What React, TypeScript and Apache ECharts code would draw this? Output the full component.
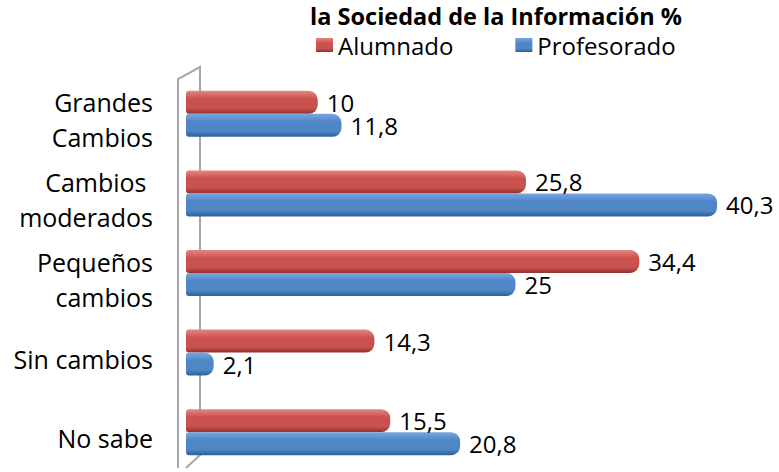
import React, { useEffect, useRef } from "react";
import * as echarts from "echarts";

const categories = ["Grandes\nCambios", "Cambios \nmoderados", "Pequeños\ncambios", "Sin cambios", "No sabe"];
const alumnado = [10, 25.8, 34.4, 14.3, 15.5];
const profesorado = [11.8, 40.3, 25, 2.1, 20.8];
const seriesNames = ["Alumnado", "Profesorado"];
const titleText = "la Sociedad de la Información %";

const FONT = "Open Sans";

function grad(top: string, mid: string, bot: string) {
  return new echarts.graphic.LinearGradient(0, 0, 0, 1, [
    { offset: 0, color: top },
    { offset: 0.35, color: mid },
    { offset: 0.75, color: mid },
    { offset: 1, color: bot },
  ]);
}

const fmt = (v: number) => String(v).replace(".", ",");

export default function App() {
  const ref = useRef<HTMLDivElement>(null);
  useEffect(() => {
    const chart = echarts.init(ref.current!, null, { renderer: "svg" });
    const labelStyle = {
      show: true,
      position: "right" as const,
      distance: 9,
      color: "#000",
      fontSize: 24,
      fontFamily: FONT,
      formatter: (p: any) => fmt(p.value),
    };
    chart.setOption({
      animation: false,
      backgroundColor: "#fff",
      title: {
        text: titleText,
        left: 491,
        textAlign: "center",
        top: 0,
        padding: [4, 5, 0, 5],
        textStyle: { fontSize: 23.5, fontWeight: "bold", fontFamily: FONT, color: "#000", lineHeight: 24 },
      },
      legend: {
        top: 33,
        left: 316,
        padding: 0,
        itemWidth: 17,
        itemHeight: 14,
        itemGap: 62,
        icon: "rect",
        textStyle: { fontSize: 24, fontFamily: FONT, color: "#000", lineHeight: 22 },
        data: seriesNames,
      },
      grid: { left: 186, right: 0, top: 74, height: 398, containLabel: false },
      xAxis: {
        type: "value",
        min: 0,
        max: 45,
        show: false,
      },
      yAxis: {
        type: "category",
        inverse: true,
        data: categories,
        axisLine: { show: false },
        axisTick: { show: false },
        splitLine: { show: false },
        axisLabel: {
          interval: 0,
          margin: 33,
          fontSize: 25,
          fontFamily: FONT,
          color: "#000",
          formatter: (v: string) =>
            "{s| }\n" + v.split("\n").map((l) => `{a|${l}}`).join("\n"),
          rich: {
            s: { lineHeight: 12, fontSize: 2 },
            a: { fontSize: 25, fontFamily: FONT, lineHeight: 35, color: "#000", align: "right" },
          },
        },
      },
      graphic: [
        {
          type: "polyline",
          z: -10,
          shape: { points: [[178, 468], [178, 79], [200, 67], [200, 455], [186, 468]] },
          style: { stroke: "#a6a6a6", lineWidth: 2, fill: "none" },
          silent: true,
        },
      ],
      series: [
        {
          name: seriesNames[0],
          type: "bar",
          data: alumnado,
          barWidth: 23,
          barGap: "0%",
          z: 3,
          itemStyle: {
            color: grad("#E48682", "#C9524E", "#93302D"),
            borderRadius: [3, 9, 9, 3],
          },
          label: labelStyle,
        },
        {
          name: seriesNames[1],
          type: "bar",
          data: profesorado,
          barWidth: 23,
          barGap: "0%",
          z: 3,
          itemStyle: {
            color: grad("#79A6E0", "#4F86C6", "#2F5E98"),
            borderRadius: [3, 9, 9, 3],
          },
          label: labelStyle,
        },
      ],
      color: ["#C0504D", "#4F81BD"],
    });
    return () => chart.dispose();
  }, []);
  return (
    <div
      ref={ref}
      style={{ position: "fixed", left: 0, top: 0, width: 779, height: 472 }}
    />
  );
}
